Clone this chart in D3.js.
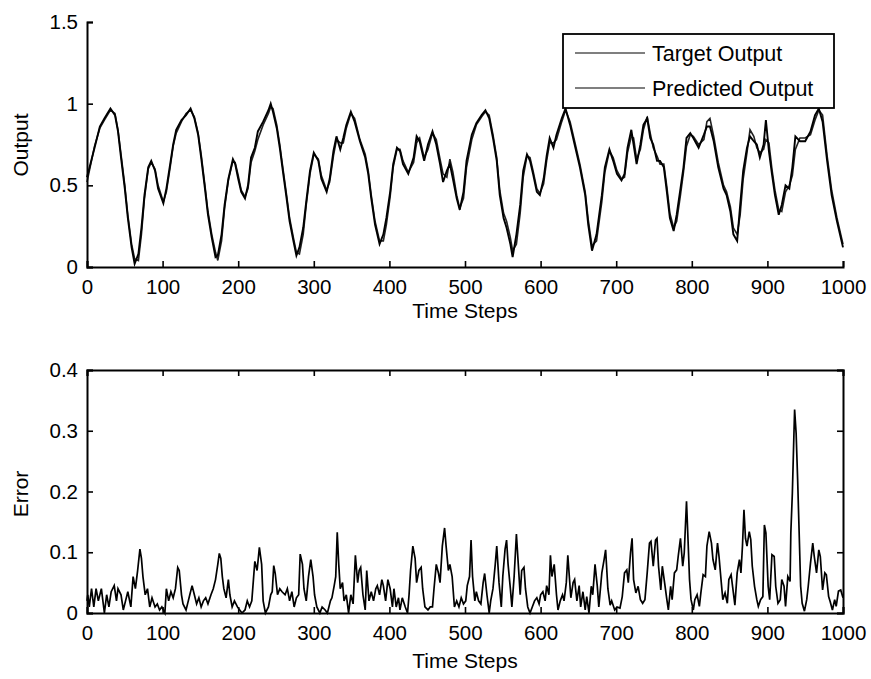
<!DOCTYPE html>
<html>
<head>
<meta charset="utf-8">
<script src="https://cdn.jsdelivr.net/npm/d3@7"></script>
<style>
  body { margin: 0; background: #fff; }
  svg text { font-family: "Liberation Sans", Arial, sans-serif; fill: #000; }
</style>
</head>
<body>
<div id="chart"></div>
<script>
const outSteps = [0,10,17,23,31,37,41,45,50,54,59,63,68,72,76,81,85,90,94,101,105,110,114,118,125,131,137,142,147,151,156,160,165,170,173,178,182,187,193,196,200,204,209,213,217,222,226,233,240,243,246,251,255,259,264,268,273,277,281,286,290,295,300,306,310,317,321,326,330,335,339,343,349,354,361,368,372,376,381,387,392,396,401,405,410,414,418,425,432,436,440,446,451,457,462,467,471,476,480,484,489,493,498,502,509,515,522,527,532,537,542,546,551,555,560,563,568,573,577,582,586,590,595,599,604,608,612,617,621,628,633,639,645,652,659,663,668,674,681,685,691,696,701,707,711,715,720,723,727,732,736,741,745,749,754,758,763,767,771,776,780,785,789,793,798,802,809,816,820,824,829,835,842,846,851,855,860,864,868,873,877,882,886,890,895,898,902,906,910,915,919,924,929,933,937,943,950,957,963,968,973,979,985,992,1000];

const targetOutput = [0.55,0.73,0.86,0.91,0.97,0.93,0.83,0.67,0.48,0.30,0.12,0.02,0.08,0.24,0.44,0.61,0.65,0.59,0.48,0.39,0.48,0.63,0.75,0.84,0.90,0.93,0.97,0.91,0.81,0.67,0.48,0.32,0.18,0.06,0.07,0.20,0.38,0.54,0.66,0.63,0.54,0.46,0.42,0.50,0.67,0.73,0.83,0.89,0.96,1.00,0.95,0.85,0.73,0.59,0.42,0.28,0.16,0.07,0.12,0.24,0.40,0.59,0.70,0.65,0.54,0.46,0.54,0.71,0.80,0.72,0.79,0.87,0.95,0.89,0.77,0.67,0.57,0.42,0.26,0.14,0.20,0.30,0.46,0.63,0.73,0.71,0.63,0.57,0.67,0.80,0.77,0.65,0.75,0.83,0.75,0.63,0.52,0.59,0.63,0.54,0.42,0.35,0.46,0.65,0.81,0.88,0.93,0.96,0.91,0.79,0.65,0.44,0.30,0.24,0.14,0.06,0.20,0.38,0.59,0.69,0.65,0.57,0.46,0.44,0.54,0.68,0.79,0.73,0.81,0.91,0.97,0.87,0.75,0.61,0.44,0.26,0.10,0.20,0.44,0.61,0.72,0.65,0.57,0.53,0.57,0.73,0.84,0.75,0.63,0.75,0.87,0.91,0.79,0.75,0.65,0.65,0.61,0.46,0.30,0.22,0.32,0.48,0.61,0.79,0.82,0.79,0.73,0.81,0.86,0.86,0.77,0.61,0.48,0.44,0.34,0.20,0.16,0.38,0.59,0.73,0.80,0.77,0.75,0.67,0.75,0.90,0.71,0.57,0.44,0.32,0.38,0.50,0.48,0.61,0.80,0.77,0.77,0.83,0.93,0.97,0.89,0.65,0.44,0.28,0.12];

const predictedOutput = [0.52,0.74,0.85,0.90,0.96,0.94,0.84,0.69,0.50,0.32,0.14,0.05,0.04,0.20,0.42,0.60,0.64,0.60,0.50,0.40,0.46,0.61,0.74,0.82,0.89,0.94,0.96,0.92,0.82,0.69,0.50,0.34,0.20,0.09,0.04,0.16,0.36,0.53,0.65,0.64,0.56,0.47,0.43,0.48,0.64,0.71,0.78,0.87,0.94,0.98,0.97,0.87,0.75,0.61,0.44,0.30,0.18,0.09,0.08,0.20,0.38,0.57,0.69,0.66,0.56,0.47,0.52,0.68,0.78,0.76,0.76,0.85,0.94,0.91,0.78,0.69,0.59,0.44,0.28,0.16,0.16,0.26,0.43,0.61,0.72,0.72,0.65,0.58,0.64,0.76,0.79,0.67,0.72,0.82,0.78,0.66,0.57,0.55,0.66,0.58,0.44,0.36,0.42,0.61,0.78,0.87,0.92,0.95,0.93,0.81,0.67,0.47,0.33,0.28,0.18,0.10,0.14,0.33,0.55,0.68,0.67,0.59,0.48,0.45,0.51,0.65,0.76,0.76,0.78,0.89,0.96,0.89,0.77,0.63,0.46,0.29,0.13,0.16,0.40,0.58,0.71,0.67,0.59,0.54,0.55,0.70,0.80,0.79,0.66,0.72,0.84,0.92,0.82,0.73,0.68,0.63,0.63,0.49,0.33,0.24,0.28,0.44,0.58,0.74,0.81,0.80,0.75,0.78,0.89,0.91,0.80,0.64,0.50,0.46,0.37,0.24,0.20,0.32,0.54,0.70,0.84,0.80,0.73,0.70,0.72,0.78,0.76,0.60,0.47,0.35,0.34,0.46,0.50,0.56,0.72,0.79,0.79,0.81,0.90,0.96,0.93,0.68,0.47,0.30,0.14];

// error curve
const errSteps = [0,1,3,6,9,12,15,19,23,26,29,32,36,39,41,45,48,51,54,58,61,64,67,70,72,74,77,80,83,86,90,93,96,99,103,105,108,111,114,117,120,122,125,127,131,134,136,139,142,145,148,151,154,157,160,164,167,170,173,175,177,179,181,184,187,189,192,195,199,202,205,209,212,215,218,222,225,228,231,233,236,240,243,245,247,249,252,255,258,262,265,268,271,274,277,280,282,285,287,290,293,296,299,301,304,308,311,315,318,322,324,327,329,331,333,335,338,340,343,346,349,352,355,358,360,362,365,368,370,373,376,379,382,384,387,390,392,395,398,401,404,406,409,412,414,417,421,424,426,428,431,434,436,439,442,444,447,451,454,457,459,462,465,467,470,473,475,478,480,483,486,489,492,495,498,501,503,506,508,510,513,515,518,521,524,526,529,532,534,537,540,542,545,548,550,553,555,557,560,562,565,568,570,573,575,578,580,583,586,589,592,595,598,600,603,606,608,611,613,615,618,621,623,626,629,631,634,636,638,640,643,645,648,651,653,656,659,661,664,667,669,672,675,677,681,684,686,689,692,694,698,701,705,708,711,714,716,719,721,723,726,729,732,735,738,741,744,746,749,752,754,756,759,761,764,767,769,772,774,777,780,782,785,788,790,793,795,797,799,802,804,807,810,812,815,818,820,823,826,828,831,834,836,839,841,844,847,849,852,855,857,860,863,865,867,869,871,873,876,878,880,883,886,888,891,894,896,898,901,903,906,909,911,914,917,919,922,924,927,930,931,933,935,936,938,940,942,944,946,949,952,954,957,960,962,965,968,970,973,976,978,981,983,986,989,991,994,997,1000];

const errValues = [0.02,0.03,0.01,0.04,0.01,0.04,0.02,0.04,0,0.03,0.01,0.035,0.045,0.02,0.04,0.03,0.005,0.02,0.035,0.01,0.06,0.04,0.07,0.105,0.09,0.06,0.03,0.04,0.01,0.025,0.01,0.015,0.005,0.01,0,0.04,0.02,0.035,0.025,0.04,0.075,0.07,0.03,0.015,0.005,0.02,0.03,0.045,0.03,0.015,0.025,0.01,0.02,0.025,0.015,0.03,0.04,0.055,0.08,0.098,0.09,0.06,0.04,0.025,0.055,0.03,0.01,0.02,0.01,0.005,0,0.005,0.02,0.01,0.02,0.085,0.07,0.108,0.08,0.02,0,0.01,0.03,0.035,0.078,0.065,0.03,0.04,0.035,0.03,0.04,0.02,0.035,0.01,0.025,0.03,0.097,0.08,0.04,0.02,0.06,0.088,0.06,0.03,0.01,0,0.01,0.005,0,0.02,0.025,0.045,0.06,0.133,0.08,0.04,0.05,0.02,0.03,0,0.03,0.015,0.095,0.05,0.07,0.075,0.03,0.005,0.07,0.02,0.035,0.02,0.04,0.045,0.03,0.055,0.045,0.02,0.055,0.04,0.01,0.04,0.01,0.025,0.005,0.025,0.01,0,0.03,0.07,0.11,0.09,0.05,0.07,0.075,0.04,0.01,0.005,0.01,0.01,0.04,0.08,0.065,0.05,0.11,0.14,0.11,0.07,0.08,0.06,0.01,0.02,0.01,0.025,0.015,0.02,0.045,0.06,0.12,0.06,0.02,0.035,0.02,0.015,0.05,0.065,0.03,0,0.02,0.04,0.08,0.11,0.05,0.01,0.06,0.105,0.12,0.08,0.04,0.01,0.06,0.13,0.09,0.03,0.07,0.075,0.04,0.01,0,0.01,0.02,0.025,0.015,0.03,0.035,0.02,0.045,0.03,0.095,0.06,0.08,0.03,0.005,0.02,0.03,0.02,0.05,0.095,0.06,0.025,0.05,0.055,0.02,0.045,0.01,0.035,0.005,0.027,0,0.044,0.03,0.08,0.044,0.01,0.066,0.088,0.104,0.04,0.013,0.02,0.005,0.01,0.008,0.027,0.066,0.071,0.05,0.1,0.123,0.055,0.033,0.044,0.022,0.016,0.022,0.066,0.115,0.118,0.077,0.12,0.123,0.077,0.038,0.077,0.05,0.022,0.005,0.044,0.022,0.066,0.071,0.093,0.123,0.077,0.099,0.184,0.121,0.055,0.022,0.005,0.022,0.03,0.011,0.033,0.063,0.06,0.11,0.134,0.115,0.088,0.071,0.115,0.093,0.05,0.022,0.033,0.016,0.055,0.063,0.033,0.013,0.066,0.088,0.066,0.11,0.17,0.123,0.11,0.134,0.121,0.077,0.044,0.022,0.011,0.022,0.027,0.145,0.132,0.044,0.022,0.096,0.093,0.044,0.016,0.022,0.055,0.044,0.011,0.06,0.052,0.132,0.197,0.29,0.335,0.296,0.22,0.132,0.044,0.016,0.003,0.022,0.044,0.082,0.115,0.093,0.066,0.104,0.093,0.038,0.066,0.063,0.027,0.019,0.005,0.022,0.011,0.036,0.038,0.025];

const xTicks = [0,100,200,300,400,500,600,700,800,900,1000];
const outTicks = [0,0.5,1,1.5];
const errTicks = [0,0.1,0.2,0.3,0.4];
const legendLabels = ["Target Output","Predicted Output"];

const width = 871, height = 679;
const svg = d3.select("#chart").append("svg")
    .attr("width", width)
    .attr("height", height);

const left = 87, right = 843;
const x = d3.scaleLinear().domain([0, 1000]).range([left, right]);

const yOut = d3.scaleLinear().domain([0, 1.5]).range([267, 22]);
const yErr = d3.scaleLinear().domain([0, 0.4]).range([613, 370]);

function fmt(v) { return d3.format("~g")(v); }

// ---------- top panel ----------
let topPanel = svg.append("g");

const line1 = d3.line().x((d, i) => x(outSteps[i])).y(d => yOut(d));
topPanel.append("path").datum(predictedOutput)
    .attr("d", line1).attr("fill", "none")
    .attr("stroke", "#222").attr("stroke-width", 1.6);
topPanel.append("path").datum(targetOutput)
    .attr("d", line1).attr("fill", "none")
    .attr("stroke", "#000").attr("stroke-width", 1.9);

topPanel.append("g")
    .attr("transform", "translate(0,267)")
    .call(d3.axisBottom(x).tickValues(xTicks).tickSize(-6).tickPadding(12).tickFormat(fmt));
topPanel.append("g")
    .attr("transform", `translate(${left},0)`)
    .call(d3.axisLeft(yOut).tickValues(outTicks).tickSize(-6).tickPadding(9).tickFormat(fmt));

topPanel.append("text").attr("x", (left + right) / 2).attr("y", 318)
    .attr("text-anchor", "middle").attr("font-size", 21).text("Time Steps");
topPanel.append("text").attr("transform", "translate(28,145) rotate(-90)")
    .attr("text-anchor", "middle").attr("font-size", 21).text("Output");

// legend
const leg = topPanel.append("g");
leg.append("rect").attr("x", 563).attr("y", 34).attr("width", 271).attr("height", 74)
    .attr("fill", "#fff").attr("stroke", "#000").attr("stroke-width", 1.8);
legendLabels.forEach((lab, i) => {
    const ly = 53 + i * 35;
    leg.append("line").attr("x1", 575).attr("x2", 645).attr("y1", ly).attr("y2", ly)
        .attr("stroke", "#000").attr("stroke-width", 1.2);
    leg.append("text").attr("x", 652).attr("y", ly + 8)
        .attr("font-size", 21.5).text(lab);
});

// ---------- bottom panel ----------
let botPanel = svg.append("g");

const line2 = d3.line().x((d, i) => x(errSteps[i])).y(d => yErr(d));
botPanel.append("path").datum(errValues)
    .attr("d", line2).attr("fill", "none")
    .attr("stroke", "#000").attr("stroke-width", 1.7);

botPanel.append("g")
    .attr("transform", "translate(0,613)")
    .call(d3.axisBottom(x).tickValues(xTicks).tickSize(-6).tickPadding(12).tickFormat(fmt));
botPanel.append("g")
    .attr("transform", "translate(0,370)")
    .call(d3.axisTop(x).tickValues(xTicks).tickSize(-6).tickFormat(""));
botPanel.append("g")
    .attr("transform", `translate(${left},0)`)
    .call(d3.axisLeft(yErr).tickValues(errTicks).tickSize(-6).tickPadding(9).tickFormat(fmt));
botPanel.append("g")
    .attr("transform", `translate(${right},0)`)
    .call(d3.axisRight(yErr).tickValues(errTicks).tickSize(-6).tickFormat(""));

botPanel.append("text").attr("x", (left + right) / 2).attr("y", 668)
    .attr("text-anchor", "middle").attr("font-size", 21).text("Time Steps");
botPanel.append("text").attr("transform", "translate(28,494) rotate(-90)")
    .attr("text-anchor", "middle").attr("font-size", 21).text("Error");

// matlab-ish axis look
svg.selectAll(".tick text").attr("font-size", 20.5).attr("font-family", "Liberation Sans, Arial, sans-serif");
svg.selectAll(".domain").attr("stroke-width", 2);
svg.selectAll(".tick line").attr("stroke-width", 1.6);
</script>
</body>
</html>
